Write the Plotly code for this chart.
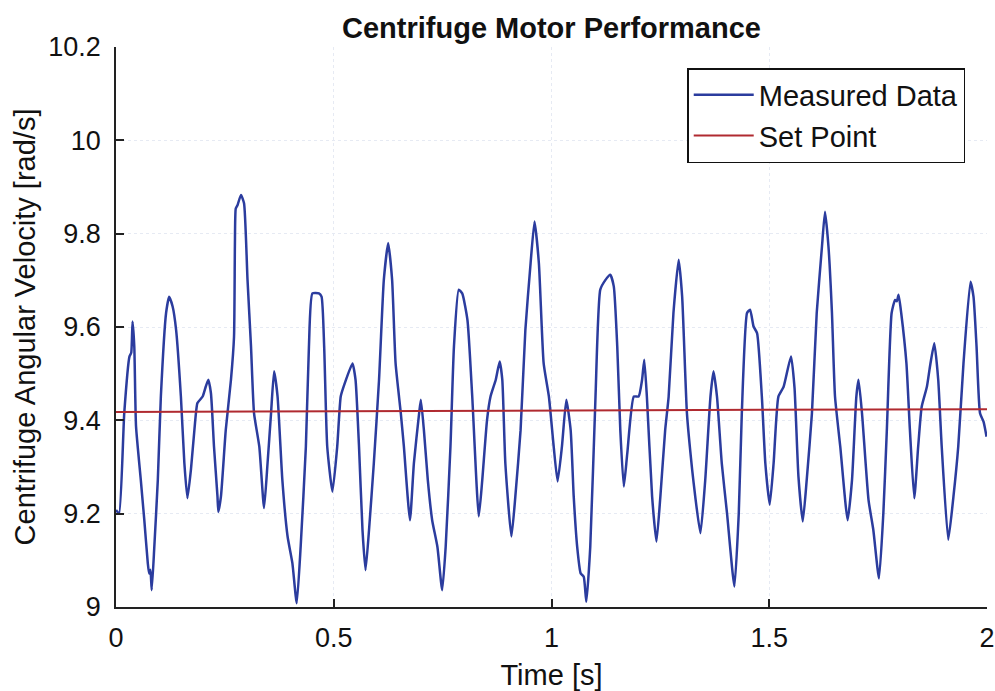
import plotly.graph_objects as go

time_s = [
    0.000, 0.007, 0.019, 0.031, 0.035, 0.038, 0.042, 0.046, 0.057, 0.065, 0.073, 0.076, 0.079, 0.082,
    0.088, 0.096, 0.103, 0.115, 0.122, 0.130, 0.138, 0.149, 0.157, 0.164, 0.172, 0.180, 0.187, 0.199,
    0.206, 0.212, 0.218, 0.225, 0.233, 0.235, 0.241, 0.252, 0.264, 0.271, 0.273, 0.275, 0.279, 0.287,
    0.294, 0.302, 0.310, 0.317, 0.329, 0.340, 0.348, 0.356, 0.363, 0.371, 0.382, 0.394, 0.405, 0.415,
    0.424, 0.436, 0.443, 0.451, 0.466, 0.472, 0.478, 0.485, 0.497, 0.508, 0.516, 0.524, 0.543, 0.550,
    0.558, 0.566, 0.573, 0.581, 0.592, 0.604, 0.615, 0.625, 0.634, 0.642, 0.654, 0.661, 0.675, 0.684,
    0.696, 0.700, 0.707, 0.716, 0.726, 0.738, 0.749, 0.757, 0.768, 0.776, 0.787, 0.795, 0.807, 0.818,
    0.833, 0.841, 0.852, 0.860, 0.872, 0.881, 0.887, 0.894, 0.908, 0.917, 0.929, 0.940, 0.952, 0.961,
    0.971, 0.982, 0.994, 1.005, 1.014, 1.024, 1.034, 1.044, 1.051, 1.059, 1.067, 1.074, 1.080, 1.089,
    1.101, 1.112, 1.124, 1.135, 1.143, 1.151, 1.158, 1.166, 1.174, 1.189, 1.200, 1.208, 1.213, 1.219,
    1.231, 1.241, 1.250, 1.261, 1.269, 1.280, 1.292, 1.300, 1.311, 1.323, 1.330, 1.342, 1.353, 1.365,
    1.372, 1.380, 1.391, 1.403, 1.420, 1.430, 1.437, 1.449, 1.456, 1.464, 1.472, 1.483, 1.491, 1.501,
    1.510, 1.521, 1.533, 1.550, 1.558, 1.567, 1.577, 1.586, 1.598, 1.609, 1.621, 1.628, 1.636, 1.644,
    1.651, 1.663, 1.680, 1.690, 1.700, 1.705, 1.713, 1.728, 1.739, 1.752, 1.762, 1.770, 1.781, 1.789,
    1.793, 1.797, 1.803, 1.815, 1.823, 1.833, 1.842, 1.850, 1.862, 1.869, 1.879, 1.888, 1.896, 1.911,
    1.923, 1.934, 1.946, 1.962, 1.969, 1.976, 1.984, 1.992, 1.999,
]
measured = [
    9.208, 9.200, 9.416, 9.537, 9.545, 9.612, 9.558, 9.387, 9.272, 9.186, 9.094, 9.072, 9.080, 9.036,
    9.129, 9.272, 9.451, 9.630, 9.665, 9.644, 9.594, 9.451, 9.308, 9.233, 9.294, 9.379, 9.437, 9.451,
    9.472, 9.487, 9.458, 9.344, 9.237, 9.204, 9.237, 9.379, 9.487, 9.579, 9.772, 9.854, 9.861, 9.883,
    9.865, 9.701, 9.558, 9.415, 9.344, 9.212, 9.308, 9.415, 9.505, 9.451, 9.272, 9.151, 9.094, 9.008,
    9.129, 9.344, 9.558, 9.672, 9.672, 9.665, 9.558, 9.344, 9.247, 9.344, 9.451, 9.476, 9.522, 9.487,
    9.344, 9.165, 9.079, 9.165, 9.308, 9.487, 9.701, 9.780, 9.701, 9.522, 9.415, 9.344, 9.186, 9.308,
    9.415, 9.444, 9.379, 9.272, 9.186, 9.129, 9.036, 9.129, 9.344, 9.558, 9.680, 9.672, 9.615, 9.451,
    9.194, 9.272, 9.401, 9.451, 9.487, 9.526, 9.487, 9.308, 9.151, 9.237, 9.379, 9.594, 9.737, 9.826,
    9.737, 9.522, 9.451, 9.344, 9.269, 9.344, 9.444, 9.379, 9.237, 9.129, 9.072, 9.065, 9.011, 9.129,
    9.450, 9.680, 9.701, 9.712, 9.687, 9.558, 9.379, 9.258, 9.329, 9.451, 9.451, 9.487, 9.530, 9.451,
    9.237, 9.140, 9.237, 9.379, 9.451, 9.630, 9.744, 9.665, 9.415, 9.294, 9.237, 9.158, 9.272, 9.451,
    9.505, 9.451, 9.308, 9.201, 9.044, 9.201, 9.415, 9.630, 9.637, 9.601, 9.587, 9.451, 9.308, 9.219,
    9.308, 9.451, 9.472, 9.537, 9.470, 9.280, 9.183, 9.272, 9.415, 9.630, 9.772, 9.847, 9.772, 9.630,
    9.451, 9.344, 9.186, 9.272, 9.451, 9.487, 9.415, 9.229, 9.165, 9.061, 9.201, 9.379, 9.630, 9.658,
    9.655, 9.669, 9.630, 9.522, 9.379, 9.233, 9.344, 9.429, 9.472, 9.515, 9.565, 9.487, 9.344, 9.144,
    9.237, 9.344, 9.522, 9.697, 9.665, 9.558, 9.415, 9.397, 9.365,
]

# Set point line
setpoint_t = [0.0, 2.0]
setpoint_v = [9.418, 9.424]

x_ticks = [0, 0.5, 1, 1.5, 2]
x_tick_text = ["0", "0.5", "1", "1.5", "2"]
y_ticks = [9, 9.2, 9.4, 9.6, 9.8, 10, 10.2]
y_tick_text = ["9", "9.2", "9.4", "9.6", "9.8", "10", "10.2"]

FONT = "Liberation Sans, Arial, Helvetica, sans-serif"

fig = go.Figure()
fig.add_trace(go.Scatter(
    x=time_s, y=measured, mode="lines", name="Measured Data",
    line=dict(color="#2b3c9e", width=2.5, shape="spline", smoothing=0.5),
))
fig.add_trace(go.Scatter(
    x=setpoint_t, y=setpoint_v, mode="lines", name="Set Point",
    line=dict(color="#b02a30", width=2),
))

fig.update_layout(
    width=995, height=691,
    margin=dict(l=116, r=8, t=47, b=84, autoexpand=False),
    paper_bgcolor="white", plot_bgcolor="white",
    font=dict(family=FONT, size=27, color="#111111"),
    title=dict(
        text="<b>Centrifuge Motor Performance</b>",
        x=0.5, xanchor="center", xref="paper",
        y=1 - 28 / 691, yanchor="middle", yref="container",
        font=dict(family=FONT, size=29, color="#111111"),
    ),
    showlegend=True,
    legend=dict(
        x=0.975, xanchor="right", y=0.9625, yanchor="top",
        bgcolor="white", bordercolor="#111111", borderwidth=1.5,
        font=dict(family=FONT, size=29, color="#111111"),
        itemwidth=60, tracegroupgap=0,
    ),
)

fig.update_xaxes(
    range=[0, 2], tickvals=x_ticks, ticktext=x_tick_text,
    ticks="inside", ticklen=8, tickwidth=1.5, tickcolor="#222222",
    showline=True, linecolor="#222222", linewidth=1.5,
    showgrid=True, gridcolor="#e6eaf3", gridwidth=1, griddash="dot",
    zeroline=False, mirror=False, automargin=False,
    title=dict(text="Time [s]", font=dict(family=FONT, size=29), standoff=14),
    tickfont=dict(family=FONT, size=27),
    ticklabelstandoff=6,
)
fig.update_yaxes(
    range=[9, 10.2], tickvals=y_ticks, ticktext=y_tick_text,
    ticks="inside", ticklen=8, tickwidth=1.5, tickcolor="#222222",
    showline=True, linecolor="#222222", linewidth=1.5,
    showgrid=True, gridcolor="#e6eaf3", gridwidth=1, griddash="dot",
    zeroline=False, mirror=False, automargin=False,
    title=dict(text="Centrifuge Angular Velocity [rad/s]", font=dict(family=FONT, size=29), standoff=4),
    tickfont=dict(family=FONT, size=27),
    ticklabelstandoff=8,
)

fig.write_html("out.html")
